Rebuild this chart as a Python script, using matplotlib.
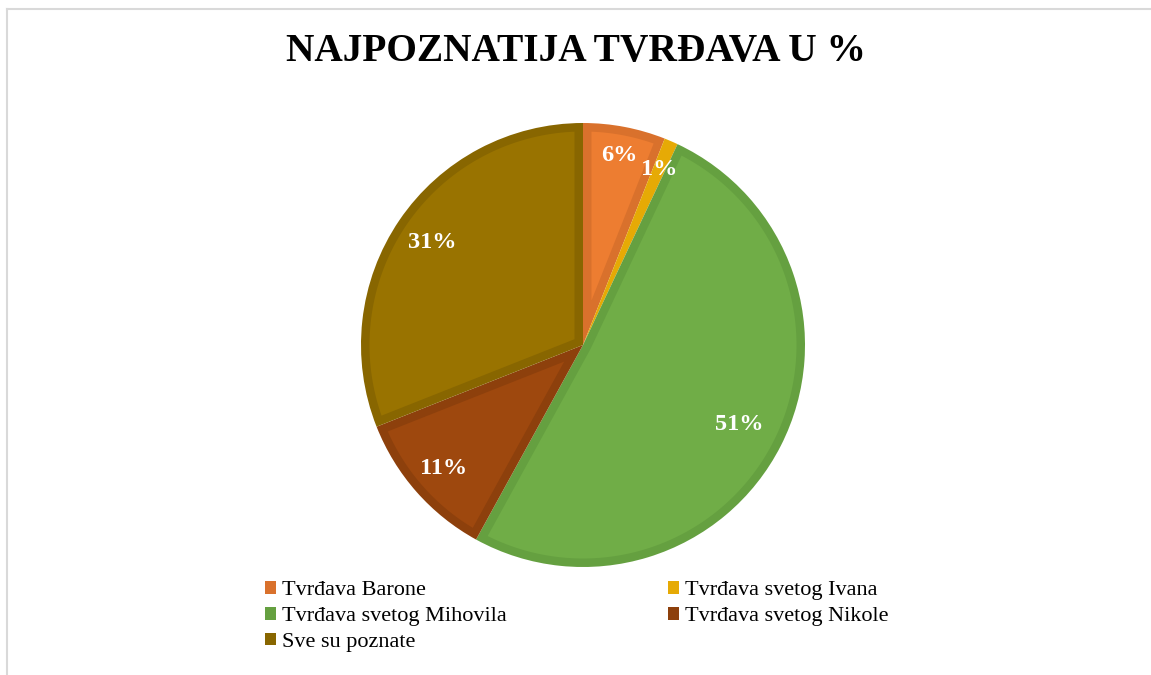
import numpy as np
import matplotlib.pyplot as plt
from matplotlib.patches import Patch, Polygon
from matplotlib.lines import Line2D

# data
labels = ["Tvrđava Barone", "Tvrđava svetog Ivana", "Tvrđava svetog Mihovila",
          "Tvrđava svetog Nikole", "Sve su poznate"]
shares = [6, 1, 51, 11, 31]
fill_colors = ["#ED7D31", "#FFC000", "#70AD47", "#9E480E", "#997300"]
edge_colors = ["#D9712C", "#E6AA05", "#65A040", "#8D400C", "#886600"]

# radial placement of the percent labels (Excel "best fit")
label_dist = [0.87, 0.86, 0.79, 0.84, 0.82]

plt.rcParams['font.family'] = ['Liberation Serif', 'DejaVu Serif']


def inset_wedge(t1, t2, R, d, n=200):
    # polygon of a wedge shrunk inwards by d on every side
    a1, a2 = np.radians(t1), np.radians(t2)
    half = (a2 - a1) / 2
    bis = (a1 + a2) / 2
    rho = R - d
    off = np.arctan2(d, np.sqrt(rho ** 2 - d ** 2))
    if a2 - a1 <= 2 * off:
        return None
    arc = np.linspace(a1 + off, a2 - off, n)
    s = d / np.sin(half)
    apex = [s * np.cos(bis), s * np.sin(bis)]
    pts = np.vstack([apex, np.column_stack([rho * np.cos(arc), rho * np.sin(arc)])])
    return pts


W, H = 1151, 675
fig = plt.figure(figsize=(W / 100, H / 100), dpi=100)

# pie axes: centre (583, 345), radius 222 px
cx, cy, r = 583, 345, 222
ax = fig.add_axes([(cx - r) / W, (H - cy - r) / H, 2 * r / W, 2 * r / H])
# full wedges in the darker border colour, lighter inset drawn over them
wedges, texts, autotexts = ax.pie(
    shares, colors=edge_colors, startangle=90, counterclock=False,
    radius=1.0, autopct='%1.0f%%', pctdistance=0.83,
    wedgeprops=dict(linewidth=0),
    textprops=dict(color='white', fontsize=17.5, fontweight='bold'))
band = 8.5 / r
for w, fc in zip(wedges, fill_colors):
    pts = inset_wedge(w.theta1, w.theta2, 1.0, band)
    if pts is not None:
        ax.add_patch(Polygon(pts, closed=True, facecolor=fc, edgecolor='none', zorder=1.5))
for w, t, dist in zip(wedges, autotexts, label_dist):
    mid = np.radians((w.theta1 + w.theta2) / 2)
    t.set_position((dist * np.cos(mid), dist * np.sin(mid)))
    t.set_zorder(4)
ax.set_xlim(-1, 1)
ax.set_ylim(-1, 1)
ax.set_aspect('equal')
ax.axis('off')

fig.text(0.5, 1 - 51 / H, "NAJPOZNATIJA TVRĐAVA U %", ha='center', va='center',
         fontsize=28.4, fontweight='bold', color='black')

# legend, row-wise order in two columns
order = [0, 2, 4, 1, 3]
handles = [Patch(facecolor=edge_colors[i], edgecolor='none') for i in order]
fig.legend(handles, [labels[i] for i in order], ncol=2, frameon=False,
           loc='upper left', bbox_to_anchor=(265 / W, 1 - 581 / H),
           fontsize=16, handlelength=0.5, handleheight=0.5,
           handletextpad=0.27, columnspacing=7.25, labelspacing=0.3,
           borderaxespad=0, borderpad=0)

# light grey chart border (left and top visible)
fig.add_artist(Line2D([7.5 / W, 7.5 / W], [0, 1 - 8.5 / H], color='#D9D9D9', lw=1.5))
fig.add_artist(Line2D([7.5 / W, 1], [1 - 8.5 / H, 1 - 8.5 / H], color='#D9D9D9', lw=1.5))

fig.savefig("out.png", dpi=100)
